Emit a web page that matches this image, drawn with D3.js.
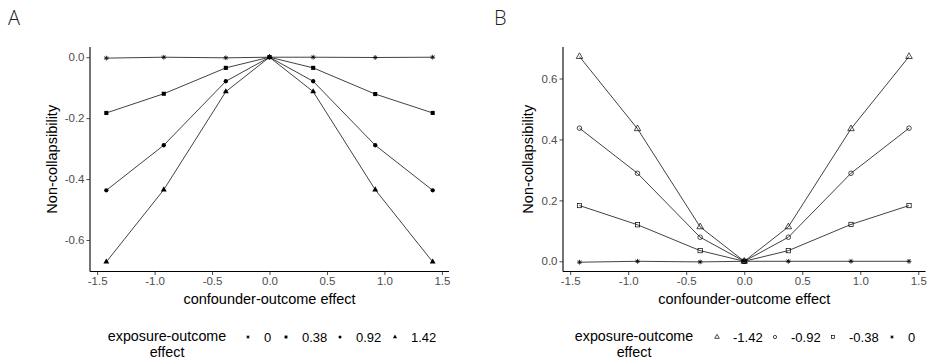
<!DOCTYPE html>
<html>
<head>
<meta charset="utf-8">
<script src="https://cdn.jsdelivr.net/npm/d3@7"></script>
<style>
  body { margin: 0; background: #fff; }
  text { font-family: "Liberation Sans", Arial, sans-serif; }
</style>
</head>
<body>
<div id="chart"></div>
<script>
// confounder-outcome effect values on the x axis
const xValues = [-1.42, -0.92, -0.38, 0, 0.38, 0.92, 1.42];

// panel A: exposure-outcome effect levels and non-collapsibility values
const levelsA = ["0", "0.38", "0.92", "1.42"];
const seriesA0   = [-0.003, 0, -0.002, 0, 0, -0.001, 0];
const seriesA038 = [-0.183, -0.12, -0.035, 0, -0.035, -0.121, -0.183];
const seriesA092 = [-0.437, -0.289, -0.079, 0, -0.079, -0.289, -0.437];
const seriesA142 = [-0.672, -0.435, -0.113, 0, -0.113, -0.435, -0.672];

// panel B
const levelsB = ["-1.42", "-0.92", "-0.38", "0"];
const seriesBm142 = [0.672, 0.435, 0.113, 0, 0.113, 0.435, 0.672];
const seriesBm092 = [0.437, 0.289, 0.079, 0, 0.079, 0.289, 0.437];
const seriesBm038 = [0.183, 0.12, 0.035, 0, 0.035, 0.121, 0.183];
const seriesB0    = [-0.003, 0, -0.002, 0, 0, 0, 0];

const xTicks = [-1.5, -1.0, -0.5, 0.0, 0.5, 1.0, 1.5];
const yTicksA = [0.0, -0.2, -0.4, -0.6];
const yTicksB = [0.0, 0.2, 0.4, 0.6];

const width = 930, height = 359;

const svg = d3.select("#chart").append("svg")
  .attr("width", width)
  .attr("height", height);

// marker shapes (ggplot-ish)
function drawMarker(g, shape, size) {
  const s = size;
  if (shape === "asterisk") {
    const p = d3.path();
    for (let a = 0; a < 4; a++) {
      const ang = a * Math.PI / 4;
      p.moveTo(-s * Math.cos(ang), -s * Math.sin(ang));
      p.lineTo(s * Math.cos(ang), s * Math.sin(ang));
    }
    g.append("path").attr("d", p.toString()).attr("stroke", "#000").attr("stroke-width", 0.8).attr("fill", "none");
  } else if (shape === "square") {
    g.append("rect").attr("x", -s * 0.85).attr("y", -s * 0.85).attr("width", s * 1.7).attr("height", s * 1.7).attr("fill", "#000");
  } else if (shape === "circle") {
    g.append("circle").attr("r", s * 0.9).attr("fill", "#000");
  } else if (shape === "triangle") {
    g.append("path").attr("d", d3.symbol(d3.symbolTriangle, s * s * 2.6)()).attr("fill", "#000");
  } else if (shape === "otriangle") {
    g.append("path").attr("d", d3.symbol(d3.symbolTriangle, s * s * 3.2)()).attr("fill", "none").attr("stroke", "#000").attr("stroke-width", 0.7);
  } else if (shape === "ocircle") {
    g.append("circle").attr("r", s * 0.95).attr("fill", "none").attr("stroke", "#000").attr("stroke-width", 0.7);
  } else if (shape === "osquare") {
    g.append("rect").attr("x", -s * 0.9).attr("y", -s * 0.9).attr("width", s * 1.8).attr("height", s * 1.8).attr("fill", "none").attr("stroke", "#000").attr("stroke-width", 0.7);
  }
}

function drawPanel(cfg) {
  const x = d3.scaleLinear().domain([-1.562, 1.562]).range([cfg.left, cfg.right]);
  const y = d3.scaleLinear().domain(cfg.yDomain).range([271.5, 47]);

  const g = svg.append("g");

  // panel letter
  g.append("text")
    .attr("x", cfg.letterX).attr("y", 25)
    .attr("font-size", 20).attr("fill", "#222")
    .style("font-family", "'Open Sans', sans-serif").attr("font-weight", 300)
    .text(cfg.letter);

  // axes
  const xAxis = g.append("g")
    .attr("transform", `translate(0,271.5)`)
    .call(d3.axisBottom(x).tickValues(xTicks).tickFormat(d3.format(".1f")).tickSizeOuter(0).tickSize(3.5).tickPadding(2));
  const yAxis = g.append("g")
    .attr("transform", `translate(${cfg.left},0)`)
    .call(d3.axisLeft(y).tickValues(cfg.yTicks).tickFormat(d3.format(".1f")).tickSizeOuter(0).tickSize(3.5).tickPadding(2));

  [xAxis, yAxis].forEach(a => {
    a.attr("font-family", null);
    a.select(".domain").attr("stroke", "#000").attr("stroke-width", 1.1);
    a.selectAll(".tick line").attr("stroke", "#333").attr("stroke-width", 0.9);
    a.selectAll(".tick text").attr("fill", "#4d4d4d").attr("font-size", 11.5);
  });
  // extend domains to meet at corner
  xAxis.select(".domain").attr("d", `M${cfg.left},0H${cfg.right}`);
  yAxis.select(".domain").attr("d", `M0,${y.range()[0]}V${y.range()[1]}`);
  yAxis.selectAll(".tick text").text(d => d3.format(".1f")(d).replace("\u2212", "-"));
  xAxis.selectAll(".tick text").text(d => d3.format(".1f")(d).replace("\u2212", "-"));

  // axis titles
  g.append("text")
    .attr("x", (cfg.left + cfg.right) / 2).attr("y", 304)
    .attr("text-anchor", "middle").attr("font-size", 14.5).attr("fill", "#000")
    .text("confounder-outcome effect");
  g.append("text")
    .attr("transform", `translate(${cfg.yTitleX},${(271.5 + 47) / 2}) rotate(-90)`)
    .attr("text-anchor", "middle").attr("font-size", 14.5).attr("fill", "#000")
    .text("Non-collapsibility");

  // lines and points
  const line = d3.line().x((d, i) => x(xValues[i])).y(d => y(d));
  cfg.series.forEach((s, k) => {
    g.append("path").datum(s)
      .attr("d", line)
      .attr("fill", "none").attr("stroke", "#111").attr("stroke-width", 0.8);
  });
  cfg.series.forEach((s, k) => {
    s.forEach((v, i) => {
      const mg = g.append("g").attr("transform", `translate(${x(xValues[i])},${y(v)})`);
      drawMarker(mg, cfg.shapes[k], 2.4);
    });
  });

  // legend (two-line title as separate texts)
  const lg = g.append("g");
  lg.append("text")
    .attr("x", cfg.legendX).attr("y", 340.5)
    .attr("text-anchor", "middle").attr("font-size", 14.3).attr("fill", "#000")
    .text("exposure-outcome");
  lg.append("text")
    .attr("x", cfg.legendX).attr("y", 357)
    .attr("text-anchor", "middle").attr("font-size", 14.3).attr("fill", "#000")
    .text("effect");

  cfg.levels.forEach((lab, k) => {
    const cx = cfg.legendItemX[k];
    const mg = lg.append("g").attr("transform", `translate(${cx},337)`);
    drawMarker(mg, cfg.shapes[k], 1.7);
    lg.append("text").attr("x", cx + 16).attr("y", 341.5)
      .attr("font-size", 13).attr("fill", "#000").text(lab);
  });
}

drawPanel({
  letter: "A", letterX: 8,
  left: 90, right: 449, yTitleX: 57,
  yDomain: [-0.7035, 0.0335], yTicks: yTicksA,
  series: [seriesA0, seriesA038, seriesA092, seriesA142],
  shapes: ["asterisk", "square", "circle", "triangle"],
  levels: levelsA,
  legendX: 167, legendItemX: [248, 286, 340, 395]
});

drawPanel({
  letter: "B", letterX: 494,
  left: 563, right: 925.5, yTitleX: 533,
  yDomain: [-0.0335, 0.7035], yTicks: yTicksB,
  series: [seriesBm142, seriesBm092, seriesBm038, seriesB0],
  shapes: ["otriangle", "ocircle", "osquare", "asterisk"],
  levels: levelsB,
  legendX: 634, legendItemX: [717, 775, 833, 892]
});
</script>
</body>
</html>
